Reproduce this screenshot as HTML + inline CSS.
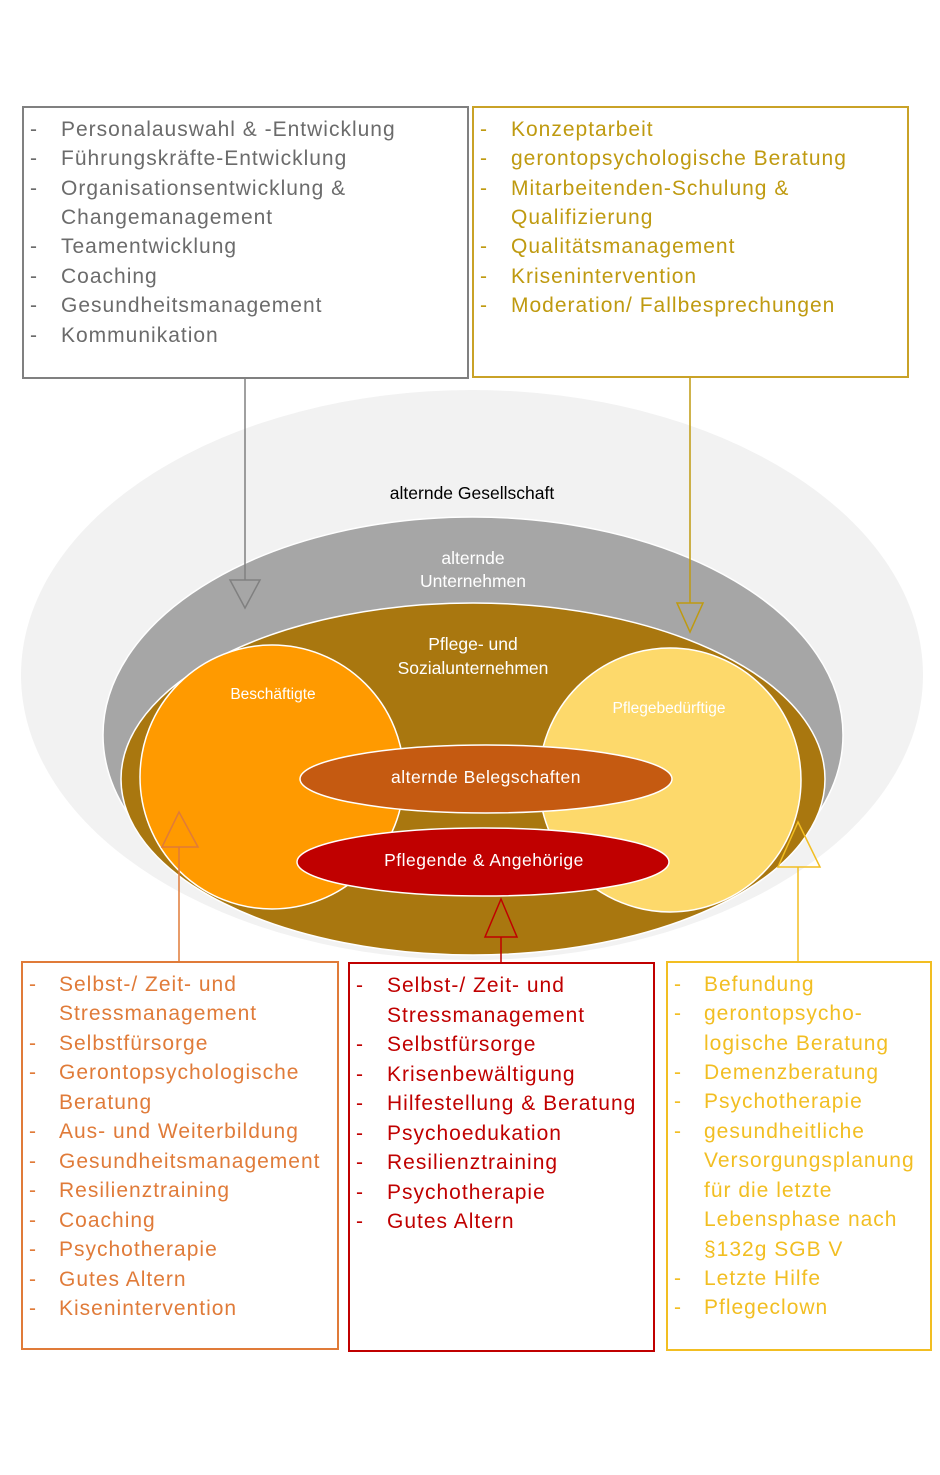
<!DOCTYPE html>
<html><head><meta charset="utf-8"><style>
html,body{margin:0;padding:0;background:#fff}
svg{display:block}
text{font-family:"Liberation Sans",sans-serif}
.l{font-size:21px;letter-spacing:1px}
</style></head><body>
<svg width="940" height="1475" viewBox="0 0 940 1475" xmlns="http://www.w3.org/2000/svg">
<ellipse cx="472" cy="675" rx="451" ry="285" fill="#f2f2f2"/>
<ellipse cx="473" cy="735" rx="370" ry="218" fill="#a6a6a6" stroke="#fff" stroke-width="1.5"/>
<ellipse cx="473" cy="779" rx="352" ry="176" fill="#a9770f" stroke="#fff" stroke-width="1.5"/>
<ellipse cx="272" cy="777" rx="132" ry="132" fill="#ff9a00" stroke="#fff" stroke-width="1.5"/>
<ellipse cx="670" cy="780" rx="131" ry="132" fill="#fdd96b" stroke="#fff" stroke-width="1.5"/>
<ellipse cx="486" cy="779" rx="186" ry="34" fill="#c55a11" stroke="#fff" stroke-width="1.5"/>
<ellipse cx="483" cy="862" rx="186" ry="34" fill="#c00000" stroke="#fff" stroke-width="1.5"/>
<g text-anchor="middle" font-size="17.5">
<text x="472" y="499" fill="#000">alternde Gesellschaft</text>
<text x="473" y="564" fill="#fff">alternde</text>
<text x="473" y="587" fill="#fff">Unternehmen</text>
<text x="473" y="650" fill="#fff">Pflege- und</text>
<text x="473" y="674" fill="#fff">Sozialunternehmen</text>
<text x="273" y="699" fill="#fff" font-size="15.5">Beschäftigte</text>
<text x="669" y="713" fill="#fff" font-size="15.5">Pflegebedürftige</text>
<text x="486" y="783" fill="#fff" letter-spacing="0.5">alternde Belegschaften</text>
<text x="484" y="866" fill="#fff" letter-spacing="0.5">Pflegende &amp; Angehörige</text>
</g>
<g fill="none" stroke-width="1.5">
<path d="M245 378V580" stroke="#808080"/><path d="M230 580H260L245 608Z" stroke="#808080"/>
<path d="M690 377V603" stroke="#bf9a10"/><path d="M677 603H703L690 632Z" stroke="#bf9a10"/>
<path d="M179 962V847" stroke="#e07b39"/><path d="M162 847H198L179 812Z" stroke="#e07b39"/>
<path d="M501 963V937" stroke="#c00000"/><path d="M485 937H517L501 899Z" stroke="#c00000"/>
<path d="M798 962V867" stroke="#f2be22"/><path d="M778 867H820L798 822Z" stroke="#f2be22"/>
</g>
<rect x="23" y="107" width="445" height="271" fill="#fff" stroke="#808080" stroke-width="2"/>
<rect x="473" y="107" width="435" height="270" fill="#fff" stroke="#c9a227" stroke-width="2"/>
<rect x="22" y="962" width="316" height="387" fill="#fff" stroke="#e07b39" stroke-width="2"/>
<rect x="349" y="963" width="305" height="388" fill="#fff" stroke="#c00000" stroke-width="2"/>
<rect x="667" y="962" width="264" height="388" fill="#fff" stroke="#f2be22" stroke-width="2"/>
<g class="l" fill="#6b6b6b">
<text x="30" y="136">-</text><text x="61" y="136">Personalauswahl &amp; -Entwicklung</text>
<text x="30" y="165">-</text><text x="61" y="165">Führungskräfte-Entwicklung</text>
<text x="30" y="195">-</text><text x="61" y="195">Organisationsentwicklung &amp;</text>
<text x="61" y="224">Changemanagement</text>
<text x="30" y="253">-</text><text x="61" y="253">Teamentwicklung</text>
<text x="30" y="283">-</text><text x="61" y="283">Coaching</text>
<text x="30" y="312">-</text><text x="61" y="312">Gesundheitsmanagement</text>
<text x="30" y="342">-</text><text x="61" y="342">Kommunikation</text>
</g>
<g class="l" fill="#bf9a10">
<text x="480" y="136">-</text><text x="511" y="136">Konzeptarbeit</text>
<text x="480" y="165">-</text><text x="511" y="165">gerontopsychologische Beratung</text>
<text x="480" y="195">-</text><text x="511" y="195">Mitarbeitenden-Schulung &amp;</text>
<text x="511" y="224">Qualifizierung</text>
<text x="480" y="253">-</text><text x="511" y="253">Qualitätsmanagement</text>
<text x="480" y="283">-</text><text x="511" y="283">Krisenintervention</text>
<text x="480" y="312">-</text><text x="511" y="312">Moderation/ Fallbesprechungen</text>
</g>
<g class="l" fill="#e07b39">
<text x="29" y="991">-</text><text x="59" y="991">Selbst-/ Zeit- und</text>
<text x="59" y="1020">Stressmanagement</text>
<text x="29" y="1050">-</text><text x="59" y="1050">Selbstfürsorge</text>
<text x="29" y="1079">-</text><text x="59" y="1079">Gerontopsychologische</text>
<text x="59" y="1109">Beratung</text>
<text x="29" y="1138">-</text><text x="59" y="1138">Aus- und Weiterbildung</text>
<text x="29" y="1168">-</text><text x="59" y="1168">Gesundheitsmanagement</text>
<text x="29" y="1197">-</text><text x="59" y="1197">Resilienztraining</text>
<text x="29" y="1227">-</text><text x="59" y="1227">Coaching</text>
<text x="29" y="1256">-</text><text x="59" y="1256">Psychotherapie</text>
<text x="29" y="1286">-</text><text x="59" y="1286">Gutes Altern</text>
<text x="29" y="1315">-</text><text x="59" y="1315">Kisenintervention</text>
</g>
<g class="l" fill="#c00000">
<text x="356" y="992">-</text><text x="387" y="992">Selbst-/ Zeit- und</text>
<text x="387" y="1022">Stressmanagement</text>
<text x="356" y="1051">-</text><text x="387" y="1051">Selbstfürsorge</text>
<text x="356" y="1081">-</text><text x="387" y="1081">Krisenbewältigung</text>
<text x="356" y="1110">-</text><text x="387" y="1110">Hilfestellung &amp; Beratung</text>
<text x="356" y="1140">-</text><text x="387" y="1140">Psychoedukation</text>
<text x="356" y="1169">-</text><text x="387" y="1169">Resilienztraining</text>
<text x="356" y="1199">-</text><text x="387" y="1199">Psychotherapie</text>
<text x="356" y="1228">-</text><text x="387" y="1228">Gutes Altern</text>
</g>
<g class="l" fill="#f2be22">
<text x="674" y="991">-</text><text x="704" y="991">Befundung</text>
<text x="674" y="1020">-</text><text x="704" y="1020">gerontopsycho-</text>
<text x="704" y="1050">logische Beratung</text>
<text x="674" y="1079">-</text><text x="704" y="1079">Demenzberatung</text>
<text x="674" y="1108">-</text><text x="704" y="1108">Psychotherapie</text>
<text x="674" y="1138">-</text><text x="704" y="1138">gesundheitliche</text>
<text x="704" y="1167">Versorgungsplanung</text>
<text x="704" y="1197">für die letzte</text>
<text x="704" y="1226">Lebensphase nach</text>
<text x="704" y="1256">§132g SGB V</text>
<text x="674" y="1285">-</text><text x="704" y="1285">Letzte Hilfe</text>
<text x="674" y="1314">-</text><text x="704" y="1314">Pflegeclown</text>
</g>
</svg>
</body></html>
